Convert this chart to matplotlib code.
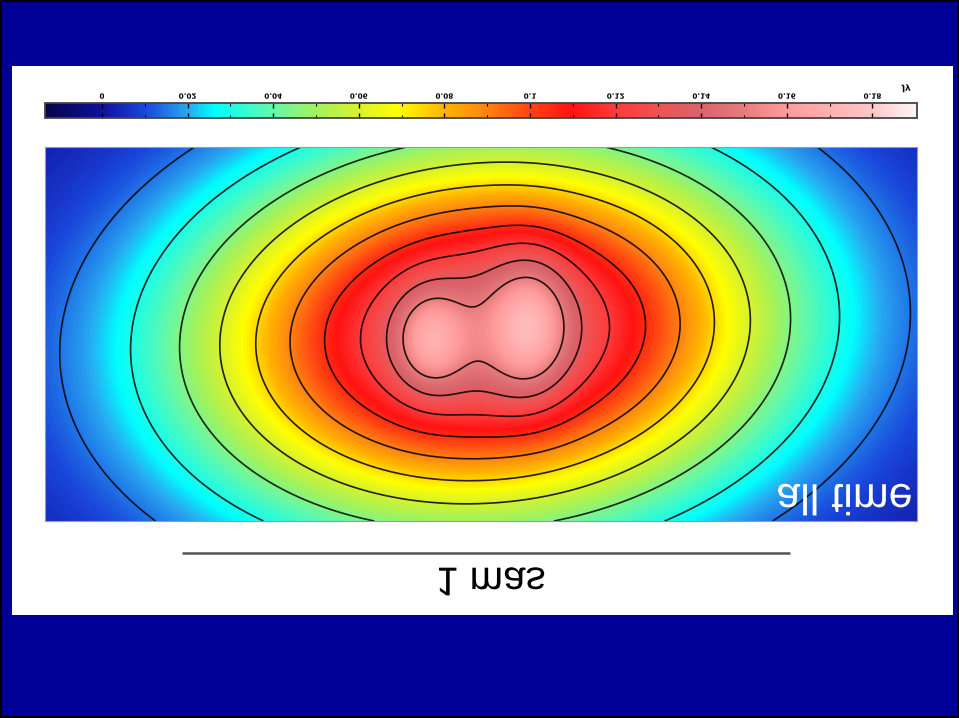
import numpy as np
import matplotlib
matplotlib.use("Agg")
import matplotlib.pyplot as plt
from matplotlib.colors import LinearSegmentedColormap, Normalize
from matplotlib.patheffects import AbstractPathEffect
from matplotlib.transforms import Affine2D, blended_transform_factory
from matplotlib.patches import Rectangle

# ---- source model: elliptical Gaussian components (mas, Jy/beam) ----
comp_x = [0.7237, 0.6332, 0.7977]
comp_y = [0.3059, 0.3174, 0.2928]
comp_flux = [0.145, 0.030, 0.033]
comp_sig_major = [0.329, 0.0592, 0.0789]
comp_sig_minor = [0.2105, 0.0411, 0.0461]
comp_pa_deg = [4.5, 90.0, 90.0]

# map field of view (mas)
map_width = 1.434
map_height = 0.615

# contour levels (Jy/beam)
contour_levels = [0.015, 0.030, 0.045, 0.060, 0.075, 0.090, 0.105, 0.120, 0.135, 0.150]

# colour scale
cbar_min = -0.0133
cbar_max = 0.1904
cbar_ticks = [0.0, 0.02, 0.04, 0.06, 0.08, 0.10, 0.12, 0.14, 0.16, 0.18]
cbar_minor_ticks = [0.01, 0.03, 0.05, 0.07, 0.09, 0.11, 0.13, 0.15, 0.17]
cbar_unit = "Jy"

scale_bar_mas = 1.0
scale_bar_label = "1 mas"
epoch_label = "all time"


class FlipVertical(AbstractPathEffect):
    """Mirror a text path about its own horizontal centre line."""

    def draw_path(self, renderer, gc, tpath, affine, rgbFace=None):
        ext = tpath.get_extents(affine)
        cy = 0.5 * (ext.y0 + ext.y1)
        flip = Affine2D().translate(0, -cy).scale(1, -1).translate(0, cy)
        renderer.draw_path(gc, tpath, affine + flip, rgbFace)


def model_image(x, y):
    img = np.zeros_like(x)
    for x0, y0, f, smaj, smin, pa in zip(comp_x, comp_y, comp_flux,
                                         comp_sig_major, comp_sig_minor, comp_pa_deg):
        t = np.deg2rad(pa)
        dx, dy = x - x0, y - y0
        u = dx * np.cos(t) - dy * np.sin(t)
        v = dx * np.sin(t) + dy * np.cos(t)
        img += f * np.exp(-0.5 * ((u / smaj) ** 2 + (v / smin) ** 2))
    return img


stops = [
    (-0.0133, "#05054a"),
    (0.000, "#1010a0"),
    (0.010, "#1a48dc"),
    (0.020, "#28aaf2"),
    (0.026, "#00ffff"),
    (0.040, "#66f8a8"),
    (0.050, "#a4f25a"),
    (0.060, "#d8f22e"),
    (0.069, "#ffff00"),
    (0.080, "#ffb400"),
    (0.088, "#ff8c10"),
    (0.100, "#ff4412"),
    (0.110, "#ff1212"),
    (0.120, "#ff3a3a"),
    (0.130, "#f05252"),
    (0.140, "#d8646c"),
    (0.150, "#e87a7c"),
    (0.160, "#ff9a9a"),
    (0.180, "#ffc6c6"),
    (0.1904, "#fff4f4"),
]
span = cbar_max - cbar_min
cmap = LinearSegmentedColormap.from_list(
    "radio", [((v - cbar_min) / span, c) for v, c in stops])
norm = Normalize(vmin=cbar_min, vmax=cbar_max)

W, H = 959, 718
fig = plt.figure(figsize=(W / 100, H / 100), dpi=100)
fig.patch.set_facecolor("#000096")


def fx(px):
    return px / W


def fy(py):
    return 1 - py / H


# outer frame and white panel
fig.add_artist(Rectangle((0, 0), 1, 1, transform=fig.transFigure,
                         facecolor="none", edgecolor="black", linewidth=3))
fig.add_artist(Rectangle((fx(12), fy(615)), fx(953) - fx(12), fy(66) - fy(615),
                         transform=fig.transFigure, facecolor="white",
                         edgecolor="none", zorder=0))

# ---- map ----
ax = fig.add_axes([fx(45), fy(521), fx(917) - fx(45), fy(147) - fy(521)])
xs = np.linspace(0, map_width, 700)
ys = np.linspace(0, map_height, 300)
X, Y = np.meshgrid(xs, ys)
Z = model_image(X, Y)
im = ax.imshow(Z, extent=[0, map_width, map_height, 0], origin="upper",
               cmap=cmap, norm=norm, aspect="auto", interpolation="bilinear")
ax.contour(X, Y, Z, levels=contour_levels, colors="black",
           linewidths=1.2, alpha=0.85)
ax.set_xlim(0, map_width)
ax.set_ylim(map_height, 0)
ax.set_xticks([])
ax.set_yticks([])
for s in ax.spines.values():
    s.set_edgecolor("#9a9a9a")
    s.set_linewidth(0.8)

ax.text(0.995, -0.008, epoch_label, transform=ax.transAxes, ha="right",
        va="bottom", color="white", fontsize=31, family="Liberation Sans",
        path_effects=[FlipVertical()])

# scale bar under the map
bar_tr = blended_transform_factory(ax.transData, fig.transFigure)
bar_x0 = 0.2253
ax.plot([bar_x0, bar_x0 + scale_bar_mas], [fy(553), fy(553)], transform=bar_tr,
        color="#555555", linewidth=1.8, clip_on=False, solid_capstyle="butt")
ax.text(bar_x0 + scale_bar_mas / 2 + 0.008, fy(584), scale_bar_label,
        transform=bar_tr, ha="center", va="center", fontsize=29,
        family="Liberation Sans", color="black",
        path_effects=[FlipVertical()])

# ---- colour bar ----
cax = fig.add_axes([fx(45), fy(118), fx(917) - fx(45), fy(103) - fy(118)])
cb = fig.colorbar(im, cax=cax, orientation="horizontal")
cb.set_ticks(cbar_ticks)
cb.set_ticks(cbar_minor_ticks, minor=True)
cax.xaxis.set_ticks_position("both")
cax.tick_params(which="major", direction="in", length=3.5, width=1.0,
                labelbottom=False, labeltop=False, colors="black")
cax.tick_params(which="minor", direction="in", length=2.5, width=0.8,
                colors="black")
cb.outline.set_edgecolor("#444444")
cb.outline.set_linewidth(1.3)

lab_tr = blended_transform_factory(cax.transData, cax.transAxes)
for v in cbar_ticks:
    cax.text(v, 1.22, f"{v:g}", transform=lab_tr, ha="center", va="bottom",
             fontsize=5.2, fontweight="bold", family="DejaVu Sans",
             path_effects=[FlipVertical()])
cax.text(cbar_max - 0.0025, 1.7, cbar_unit, transform=lab_tr, ha="center",
         va="bottom", fontsize=6, fontweight="bold", family="DejaVu Sans",
         path_effects=[FlipVertical()])

fig.savefig("out.png", dpi=100, facecolor=fig.get_facecolor())
